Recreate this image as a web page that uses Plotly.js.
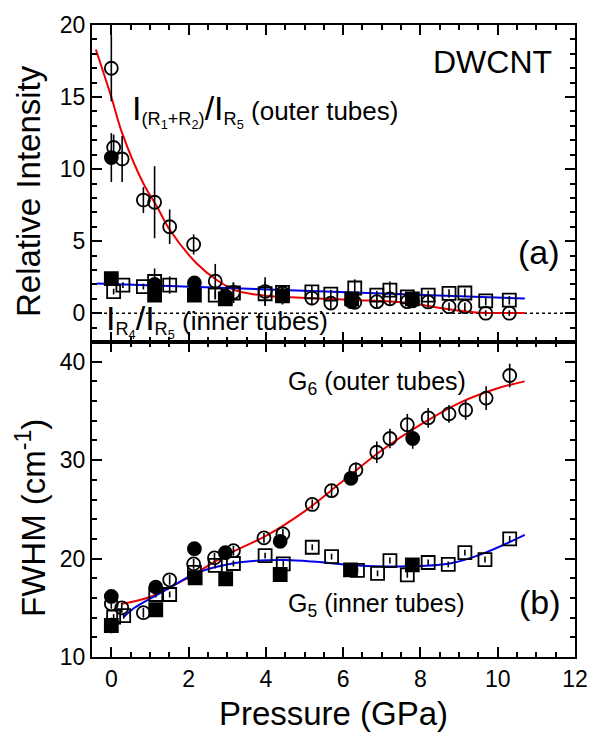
<!DOCTYPE html>
<html><head><meta charset="utf-8">
<script src="https://cdn.plot.ly/plotly-3.0.1.min.js"></script>
<style>body{margin:0;background:#fff}#c{width:592px;height:732px}</style>
</head><body><div id="c"></div>
<script>
// ---- Panel (a): relative intensities ----
const aOpenCircP = [0, 0.06, 0.28, 0.83, 1.12, 1.51, 2.13, 2.69, 3.16, 3.98, 4.43, 5.19, 5.68, 6.3, 6.87, 7.21, 7.66, 8.2, 8.74, 9.15, 9.69, 10.3];
const aOpenCircV = [17.0, 11.5, 10.7, 7.85, 7.7, 6.0, 4.77, 2.22, 1.45, 1.5, 1.4, 1.05, 0.7, 0.75, 0.8, 1.0, 0.8, 0.78, 0.45, 0.45, 0.0, 0.0];
const aOpenCircE = [2.3, 0.9, 1.6, 0.9, 2.5, 1.2, 0.7, 1.2, 0.7, 1.0, 0.5, 0.5, 0.4, 0.4, 0.4, 0.5, 0.3, 0.4, 0.3, 0.3, 0.2, 0.2];
const aFillCircP = [0, 1.12, 2.15, 2.95, 4.43, 6.22, 7.79];
const aFillCircV = [10.8, 2.0, 2.1, 1.2, 1.2, 0.8, 0.85];
const aFillCircE = [1.7, 0.5, 0.4, 0.3, 0.6, 0.3, 0.3];
const aOpenSqP = [0.06, 0.3, 0.83, 1.12, 1.51, 2.69, 3.16, 3.98, 4.43, 5.19, 5.68, 6.3, 6.87, 7.21, 7.66, 8.2, 8.74, 9.15, 9.69, 10.3];
const aOpenSqV = [1.5, 1.95, 1.85, 2.2, 1.95, 1.25, 1.4, 1.35, 1.45, 1.48, 1.32, 1.75, 1.25, 1.6, 1.13, 1.25, 1.37, 1.4, 0.85, 0.9];
const aOpenSqE = [0.2, 0.2, 0.2, 0.9, 0.6, 0.3, 0.7, 0.8, 0.3, 0.4, 0.3, 0.6, 0.3, 0.6, 0.3, 0.3, 0.3, 0.3, 0.3, 0.3];
const aFillSqP = [0, 1.12, 2.15, 2.95, 4.43, 6.22, 7.79];
const aFillSqV = [2.4, 1.25, 1.25, 1.0, 1.2, 1.0, 1.0];
const aRedP = [-0.4, 0, 0.28, 0.83, 1.18, 1.52, 2.21, 2.73, 3.16, 3.6, 4.02, 4.63, 5.32, 6.43, 7.0, 7.73, 8.59, 9.45, 10.7];
const aRedV = [18.3, 15.0, 12.5, 9.0, 7.4, 5.76, 3.45, 2.3, 1.64, 1.35, 1.2, 1.1, 1.02, 0.9, 0.85, 0.7, 0.33, 0.05, 0.02];
const aBlueP = [-0.37, 10.7];
const aBlueV = [2.06, 1.02];

// ---- Panel (b): FWHM ----
const bOpenCircP = [0, 0.27, 0.83, 1.51, 2.13, 2.67, 3.16, 3.95, 4.44, 5.2, 5.7, 6.33, 6.87, 7.21, 7.66, 8.2, 8.74, 9.17, 9.7, 10.31];
const bOpenCircV = [15.4, 15.0, 14.5, 17.84, 19.46, 20.07, 20.8, 22.1, 22.5, 25.5, 26.9, 29.0, 30.8, 32.2, 33.6, 34.3, 34.7, 35.1, 36.3, 38.6];
const bOpenCircE = [0.5, 0.5, 0.5, 0.5, 0.5, 0.5, 0.5, 0.5, 0.5, 0.5, 0.6, 0.75, 1.1, 1.0, 1.1, 1.0, 0.9, 1.0, 1.2, 1.2];
const bFillCircP = [0, 1.15, 2.15, 2.95, 4.37, 6.2, 7.8];
const bFillCircV = [16.15, 17.1, 21.0, 20.6, 21.75, 28.15, 32.2];
const bFillCircE = [0.4, 0.4, 0.4, 0.4, 0.4, 0.6, 1.05];
const bOpenSqP = [0.06, 0.32, 1.15, 1.51, 2.15, 2.69, 3.16, 3.98, 4.45, 5.2, 5.7, 6.37, 6.89, 7.21, 7.66, 8.2, 8.72, 9.15, 9.67, 10.31];
const bOpenSqV = [14.05, 14.2, 16.35, 16.35, 18.6, 19.3, 19.5, 20.3, 19.46, 21.15, 20.2, 18.8, 18.5, 19.8, 18.35, 19.6, 19.4, 20.6, 19.9, 22.0];
const bOpenSqE = [0.3, 0.3, 0.3, 0.3, 0.3, 0.3, 0.3, 0.3, 0.3, 0.3, 0.3, 0.3, 0.3, 0.3, 0.3, 0.3, 0.3, 0.3, 0.3, 0.3];
const bFillSqP = [0, 1.15, 2.17, 2.96, 4.37, 6.19, 7.79];
const bFillSqV = [13.2, 14.8, 18.05, 17.95, 18.38, 18.85, 19.35];
const bFillSqE = [0.8, 0.3, 0.3, 0.3, 0.3, 0.3, 0.3];
const bRedP = [0.27, 1, 2, 3, 4, 5, 6, 7, 8, 9, 10, 10.7];
const bRedV = [15.4, 16.1, 18.1, 20.4, 22.3, 24.8, 27.9, 31.0, 33.6, 35.8, 37.3, 38.0];
const bBlueP = [0.32, 0.6, 1.09, 1.5, 2.15, 3, 3.85, 4.5, 5.2, 6.37, 7.5, 8.76, 9.62, 10.7];
const bBlueV = [14.05, 15.0, 16.1, 17.0, 18.45, 19.4, 19.8, 19.85, 19.7, 19.3, 19.2, 19.5, 20.5, 22.4];

const xTicks = [0, 2, 4, 6, 8, 10, 12];
const aTicks = [0, 5, 10, 15, 20];
const bTicks = [10, 20, 30, 40];

function err(arr){ return {type:'data', array:arr, visible:true, color:'#000', thickness:1.6, width:0}; }
function pts(x, y, sym, e, xa, ya){
  const t = {x:x, y:y, type:'scatter', mode:'markers', xaxis:xa, yaxis:ya, showlegend:false,
    marker:{symbol:sym, size:13, color:'#000', line:{color:'#000', width:1.8}}};
  if (e) t.error_y = err(e);
  return t;
}
function fit(x, y, col, xa, ya){
  return {x:x, y:y, type:'scatter', mode:'lines', xaxis:xa, yaxis:ya, showlegend:false,
    line:{color:col, width:2, shape:'spline'}};
}

const data = [
  fit(aRedP, aRedV, '#ee0000', 'x2', 'y2'),
  fit(aBlueP, aBlueV, '#0000ee', 'x2', 'y2'),
  pts(aFillSqP, aFillSqV, 'square', null, 'x2', 'y2'),
  pts(aFillCircP, aFillCircV, 'circle', aFillCircE, 'x2', 'y2'),
  pts(aOpenSqP, aOpenSqV, 'square-open', aOpenSqE, 'x2', 'y2'),
  pts(aOpenCircP, aOpenCircV, 'circle-open', aOpenCircE, 'x2', 'y2'),
  fit(bRedP, bRedV, '#ee0000', 'x', 'y'),
  fit(bBlueP, bBlueV, '#0000ee', 'x', 'y'),
  pts(bFillSqP, bFillSqV, 'square', bFillSqE, 'x', 'y'),
  pts(bFillCircP, bFillCircV, 'circle', bFillCircE, 'x', 'y'),
  pts(bOpenSqP, bOpenSqV, 'square-open', bOpenSqE, 'x', 'y'),
  pts(bOpenCircP, bOpenCircV, 'circle-open', bOpenCircE, 'x', 'y')
];

const F = 'Liberation Sans, Arial, sans-serif';
const common = {showline:true, linewidth:2, linecolor:'#000', mirror:'allticks', ticks:'inside',
  ticklen:10, tickwidth:2, tickcolor:'#000', showgrid:false, zeroline:false,
  tickfont:{family:F, size:23, color:'#000'}, automargin:false};
const split = 0.4984;
function px(xp){ return (xp-92)/483; }
function py(yp){ return (657-yp)/632; }

const layout = {
  width:592, height:732, paper_bgcolor:'#fff', plot_bgcolor:'#fff',
  margin:{l:92, r:17, t:25, b:75},
  font:{family:F, color:'#000'},
  xaxis: Object.assign({}, common, {domain:[0,1], range:[-0.5,12], anchor:'y', tickmode:'array', tickvals:xTicks,
    minor:{dtick:0.5, tick0:0, ticklen:5, tickwidth:2, tickcolor:'#000', ticks:'inside'},
    title:{text:'Pressure (GPa)', font:{family:F, size:33, color:'#000'}, standoff:12}}),
  xaxis2: Object.assign({}, common, {domain:[0,1], range:[-0.5,12], anchor:'y2', matches:'x', tickmode:'array', tickvals:xTicks,
    showticklabels:false, minor:{dtick:0.5, tick0:0, ticklen:5, tickwidth:2, tickcolor:'#000', ticks:'inside'}}),
  yaxis: Object.assign({}, common, {domain:[0,split], range:[10,42], anchor:'x', tickmode:'array', tickvals:bTicks,
    minor:{dtick:2, tick0:10, ticklen:5, tickwidth:2, tickcolor:'#000', ticks:'inside'}}),
  yaxis2: Object.assign({}, common, {domain:[split,1], range:[-2,20], anchor:'x2', tickmode:'array', tickvals:aTicks,
    minor:{dtick:1, tick0:0, ticklen:5, tickwidth:2, tickcolor:'#000', ticks:'inside'}}),
  shapes:[{type:'line', xref:'paper', x0:0, x1:1, yref:'y2', y0:0, y1:0, line:{color:'#000', width:1.5, dash:'dot'}, layer:'below'}],
  annotations:[
    {xref:'paper', yref:'paper', x:px(29), y:py(191), xanchor:'center', yanchor:'middle', textangle:-90, text:'Relative Intensity', showarrow:false, font:{family:F, size:33, color:'#000'}},
    {xref:'paper', yref:'paper', x:px(31), y:py(518), xanchor:'center', yanchor:'middle', textangle:-90, text:'FWHM (cm<sup>-1</sup>)', showarrow:false, font:{family:F, size:33, color:'#000'}},
    {xref:'paper', yref:'paper', x:px(492), y:py(62), xanchor:'center', yanchor:'middle', text:'DWCNT', showarrow:false, font:{family:F, size:32, color:'#000'}},
    {xref:'paper', yref:'paper', x:px(539), y:py(252), xanchor:'center', yanchor:'middle', text:'(a)', showarrow:false, font:{family:F, size:34, color:'#000'}},
    {xref:'paper', yref:'paper', x:px(540), y:py(602), xanchor:'center', yanchor:'middle', text:'(b)', showarrow:false, font:{family:F, size:34, color:'#000'}},
    {xref:'paper', yref:'paper', x:px(130), y:py(110), xanchor:'left', yanchor:'middle', showarrow:false,
      text:'<span style="font-size:34px">I</span><sub>(R<sub>1</sub>+R<sub>2</sub>)</sub><span style="font-size:34px">/I</span><sub>R<sub>5</sub></sub> (outer tubes)',
      font:{family:F, size:26, color:'#000'}},
    {xref:'paper', yref:'paper', x:px(104), y:py(320), xanchor:'left', yanchor:'middle', showarrow:false,
      text:'<span style="font-size:34px">I</span><sub>R<sub>4</sub></sub><span style="font-size:34px">/I</span><sub>R<sub>5</sub></sub> (inner tubes)',
      font:{family:F, size:26, color:'#000'}},
    {xref:'paper', yref:'paper', x:px(286), y:py(383), xanchor:'left', yanchor:'middle', showarrow:false,
      text:'G<sub>6</sub> (outer tubes)', font:{family:F, size:25, color:'#000'}},
    {xref:'paper', yref:'paper', x:px(286), y:py(605), xanchor:'left', yanchor:'middle', showarrow:false,
      text:'G<sub>5</sub> (inner tubes)', font:{family:F, size:25, color:'#000'}}
  ]
};

Plotly.newPlot('c', data, layout, {staticPlot:true, displayModeBar:false});
</script></body></html>
